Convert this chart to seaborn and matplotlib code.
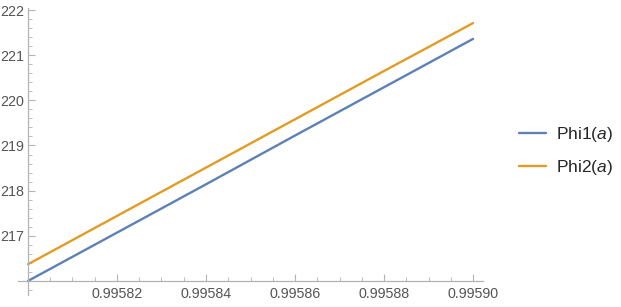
import pandas as pd
import matplotlib
matplotlib.use("Agg")
import matplotlib.pyplot as plt
import seaborn as sns
from matplotlib.ticker import MultipleLocator, FormatStrFormatter, FixedLocator

a_values = [0.99580, 0.99582, 0.99584, 0.99586, 0.99588, 0.99590]
phi1 = [216.00, 217.07, 218.14, 219.22, 220.29, 221.36]
phi2 = [216.37, 217.44, 218.51, 219.58, 220.65, 221.71]
series_names = ["Phi1($\\it{a}$)", "Phi2($\\it{a}$)"]
x_ticks = [0.99582, 0.99584, 0.99586, 0.99588, 0.99590]
y_ticks = [217, 218, 219, 220, 221, 222]

df = pd.DataFrame({
    "a": a_values * 2,
    "value": phi1 + phi2,
    "series": [series_names[0]] * len(a_values) + [series_names[1]] * len(a_values),
})

sns.set_theme(style="white")
plt.rcParams["font.family"] = ["Liberation Sans", "DejaVu Sans"]
plt.rcParams["mathtext.fontset"] = "custom"
plt.rcParams["mathtext.rm"] = "Liberation Sans"
plt.rcParams["mathtext.it"] = "Liberation Sans:italic"

fig = plt.figure(figsize=(6.21, 3.07), dpi=100)
ax = fig.add_axes([18 / 621, 12 / 307, (483 - 18) / 621, (295 - 8) / 307])

palette = {series_names[0]: "#5E81B5", series_names[1]: "#E19C24"}
sns.lineplot(data=df, x="a", y="value", hue="series", palette=palette,
             linewidth=1.7, ax=ax, legend=False)

ax.set_xlim(0.99580 - 10 / 4462500, 0.99590 + 10 / 4462500)
ax.set_ylim(216 - 14 / 45, 222 + 2 / 45)

for side in ["top", "right"]:
    ax.spines[side].set_visible(False)
ax.spines["left"].set_position(("data", 0.99580))
ax.spines["bottom"].set_position(("data", 216))
for side in ["left", "bottom"]:
    ax.spines[side].set_color("#b3b3b3")
    ax.spines[side].set_linewidth(0.9)

ax.xaxis.set_major_locator(FixedLocator(x_ticks))
ax.xaxis.set_major_formatter(FormatStrFormatter("%.5f"))
ax.xaxis.set_minor_locator(MultipleLocator(0.000005))
ax.yaxis.set_major_locator(FixedLocator(y_ticks))
ax.yaxis.set_major_formatter(FormatStrFormatter("%d"))
ax.yaxis.set_minor_locator(MultipleLocator(0.2))

ax.tick_params(axis="both", which="major", direction="in", length=5, width=0.8,
               color="#b3b3b3", labelcolor="#555555", labelsize=10.3)
ax.tick_params(axis="x", which="major", pad=4)
ax.tick_params(axis="y", which="major", pad=3)
ax.tick_params(axis="both", which="minor", direction="in", length=3, width=0.6,
               color="#b3b3b3")
ax.tick_params(axis="x", which="both", bottom=True)
ax.tick_params(axis="y", which="both", left=True)
ax.set_xlabel("")
ax.set_ylabel("")
ax.grid(False)

handles = [plt.Line2D([], [], color=palette[n], lw=1.7) for n in series_names]
fig.legend(handles, series_names, loc="center left", bbox_to_anchor=(503 / 621, 1 - 151 / 307),
           frameon=False, fontsize=12.5, handlelength=1.55, handletextpad=0.63,
           labelspacing=0.84)

fig.savefig("out.png", dpi=100)
